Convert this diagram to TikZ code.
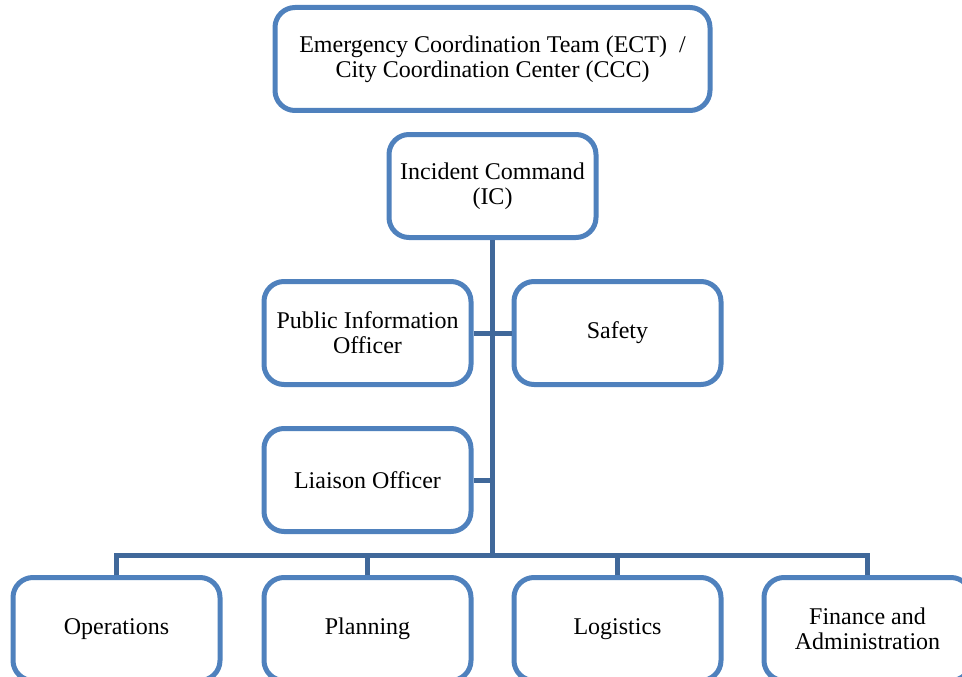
\documentclass[tikz,border=0pt]{standalone}
\usepackage{fontspec}
\setmainfont{Liberation Serif}
\definecolor{boxblue}{RGB}{79,129,189}
\definecolor{linkblue}{RGB}{64,104,154}

\tikzset{bx/.style={draw=boxblue, line width=5pt, rounded corners=20pt, fill=white, minimum width=207pt, minimum height=103pt, inner sep=0pt, align=center, font=\fontsize{24}{25}\selectfont}}
\tikzset{link/.style={draw=linkblue, line width=5pt}}

\begin{document}
\begin{tikzpicture}[x=1pt, y=-1pt]
    \useasboundingbox (0,0) rectangle (962,677);

    \node[bx, minimum width=435pt](ect) at (492.5,59) {Emergency Coordination Team (ECT)~~/\\City Coordination Center (CCC)};

    \node[bx] (ic) at ([yshift=-127pt] ect) {Incident Command\\(IC)};

    \node[bx] (pio) at ([yshift=-147pt, xshift=-125pt] ic) {Public Information\\Officer};
    \node[bx] (safety) at ([yshift=-147pt, xshift=125pt] ic) {Safety};

    \node[bx] (liaison) at ([yshift=-294pt, xshift=-125pt] ic) {Liaison Officer};

    \node[bx] (ops) at ([yshift=-443pt, xshift=-376pt] ic) {Operations};
    \node[bx] (plan) at ([yshift=-443pt, xshift=-125pt] ic) {Planning};
    \node[bx] (logi) at ([yshift=-443pt, xshift=125pt] ic) {Logistics};
    \node[bx] (fin) at ([yshift=-443pt, xshift=375pt] ic) {Finance and\\Administration};

    \path (plan.north -| ic.south) ++(0,-20) coordinate (bar);

    \draw[link] (ic.south) -- (bar);

    \draw[link] (pio.east) -- (safety.west);

    \draw[link] (liaison.east) -- (liaison.east -| ic.south);

    \draw[link] (ops.north) -- (ops.north |- bar) -- (fin.north |- bar) -- (fin.north);
    \draw[link] (plan.north) -- (plan.north |- bar);
    \draw[link] (logi.north) -- (logi.north |- bar);

\end{tikzpicture}
\end{document}
